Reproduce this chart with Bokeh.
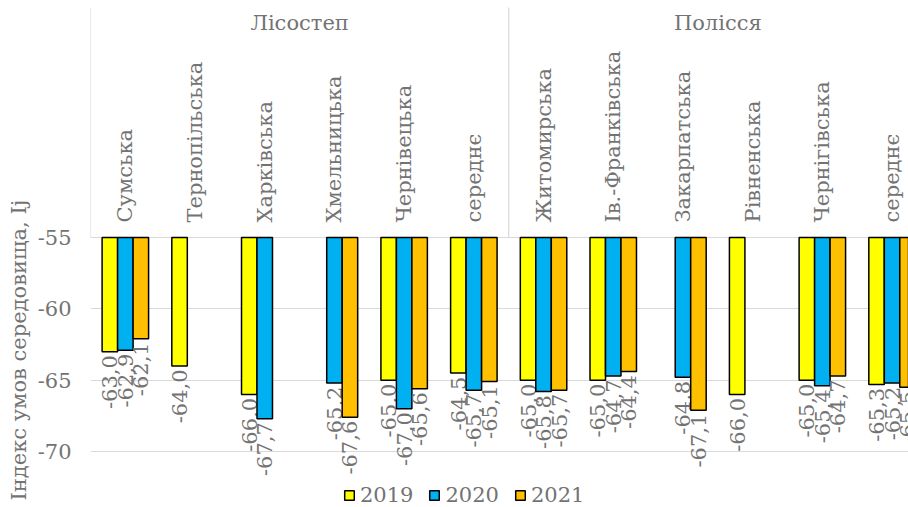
import math
from bokeh.plotting import figure
from bokeh.models import Range1d, FixedTicker, Legend, LegendItem, Title
from bokeh.core.properties import value
from bokeh.embed import file_html
from bokeh.resources import INLINE

# ---------------- data ----------------
nan = float("nan")
groups = ["Лісостеп", "Полісся"]
regions_lisostep = ["Сумська", "Тернопільська", "Харківська", "Хмельницька", "Чернівецька", "середнє"]
regions_polissia = ["Житомирська", "Ів.-Франківська", "Закарпатська", "Рівненська", "Чернігівська", "середнє"]
years = ["2019", "2020", "2021"]
values_2019 = [-63.0, -64.0, -66.0, nan, -65.0, -64.5, -65.0, -65.0, nan, -66.0, -65.0, -65.3]
values_2020 = [-62.9, nan, -67.7, -65.2, -67.0, -65.7, -65.8, -64.7, -64.8, nan, -65.4, -65.2]
values_2021 = [-62.1, nan, nan, -67.6, -65.6, -65.1, -65.7, -64.4, -67.1, nan, -64.7, -65.5]
y_ticks = [-55, -60, -65, -70]
y_tick_labels = ["-55", "-60", "-65", "-70"]
y_axis_title = "Індекс умов середовища, Ij"

# ---------------- styling / layout ----------------
W, H = 908, 507
FRAME_LEFT = 90
AXIS_PX = 237.0          # screen y of the value-axis origin (-55)
PX_PER_UNIT = 214.0 / 15.0
CAT_PX = 69.7
FONT = "DejaVu Serif"
FS = "21px"
TXT = "#737373"
GRID = "#d9d9d9"
colors = ["#FFFF00", "#00B0F0", "#FFC000"]

categories = regions_lisostep + regions_polissia
series = [values_2019, values_2020, values_2021]
origin = max(y_ticks)

def y_at(px):
    return origin + (AXIS_PX - px) / PX_PER_UNIT

x_end = (W - FRAME_LEFT) / CAT_PX
p = figure(width=W, height=H, x_range=Range1d(0, x_end), y_range=Range1d(y_at(H), y_at(0)),
           output_backend="svg", toolbar_location=None, x_axis_location=None,
           min_border_left=FRAME_LEFT, min_border_right=0, min_border_top=0, min_border_bottom=0)
p.outline_line_color = None
p.background_fill_color = "white"
p.border_fill_color = "white"
p.xgrid.visible = False
p.ygrid.ticker = FixedTicker(ticks=y_ticks)
p.ygrid.grid_line_color = GRID
p.ygrid.grid_line_width = 1

ax = p.yaxis[0]
ax.ticker = FixedTicker(ticks=y_ticks)
ax.major_label_overrides = dict(zip(y_ticks, y_tick_labels))
ax.axis_line_color = None
ax.major_tick_line_color = None
ax.major_tick_out = 0
ax.major_tick_in = 0
ax.minor_tick_line_color = None
ax.minor_tick_out = 0
ax.major_label_standoff = 19
ax.major_label_text_font = FONT
ax.major_label_text_font_size = FS
ax.major_label_text_color = TXT

title = Title(text=y_axis_title, align="left", offset=7, standoff=8,
              text_font=FONT, text_font_size=FS, text_font_style="normal", text_color=TXT)
p.add_layout(title, "left")

# group separators (category-axis box lines)
bounds = [0, len(regions_lisostep)]
p.segment(x0=bounds, y0=origin, x1=bounds, y1=y_at(7), line_color=GRID, line_width=1.2)

# bars
bw = 1.0 / 4.5
n = len(series)
legend_items = []
for k, (yr, vals, col) in enumerate(zip(years, series, colors)):
    xs = [i + 0.5 + (k - (n - 1) / 2) * bw for i, v in enumerate(vals) if not math.isnan(v)]
    vs = [v for v in vals if not math.isnan(v)]
    r = p.vbar(x=xs, top=origin, bottom=vs, width=bw, fill_color=col,
               line_color="black", line_width=1.5)
    legend_items.append(LegendItem(label=yr, renderers=[r]))
    labels = [f"{v:.1f}".replace(".", ",") for v in vs]
    p.text(x=xs, y=[v - 3.5 / PX_PER_UNIT for v in vs], text=labels, angle=math.pi / 2,
           text_align="right", text_baseline="middle", text_font=value(FONT),
           text_font_size=FS, text_color=TXT)

# category labels
centers = [i + 0.5 for i in range(len(categories))]
p.text(x=centers, y=[y_at(AXIS_PX - 15)] * len(categories), text=categories, angle=math.pi / 2,
       text_align="left", text_baseline="middle", text_font=value(FONT),
       text_font_size=FS, text_color=TXT)

# group labels
gcenters = [len(regions_lisostep) / 2, len(regions_lisostep) + len(regions_polissia) / 2]
p.text(x=gcenters, y=[y_at(22)] * 2, text=groups, text_align="center", text_baseline="middle",
       text_font=value(FONT), text_font_size=FS, text_color=TXT)

legend = Legend(items=legend_items, location=(253, 0), orientation="horizontal",
                glyph_width=12, glyph_height=12, label_standoff=5, spacing=15,
                padding=0, margin=0, border_line_color=None, background_fill_alpha=0,
                label_text_font=FONT, label_text_font_size=FS, label_text_color=TXT)
p.add_layout(legend)

open("out.html", "w").write(file_html(p, INLINE))
